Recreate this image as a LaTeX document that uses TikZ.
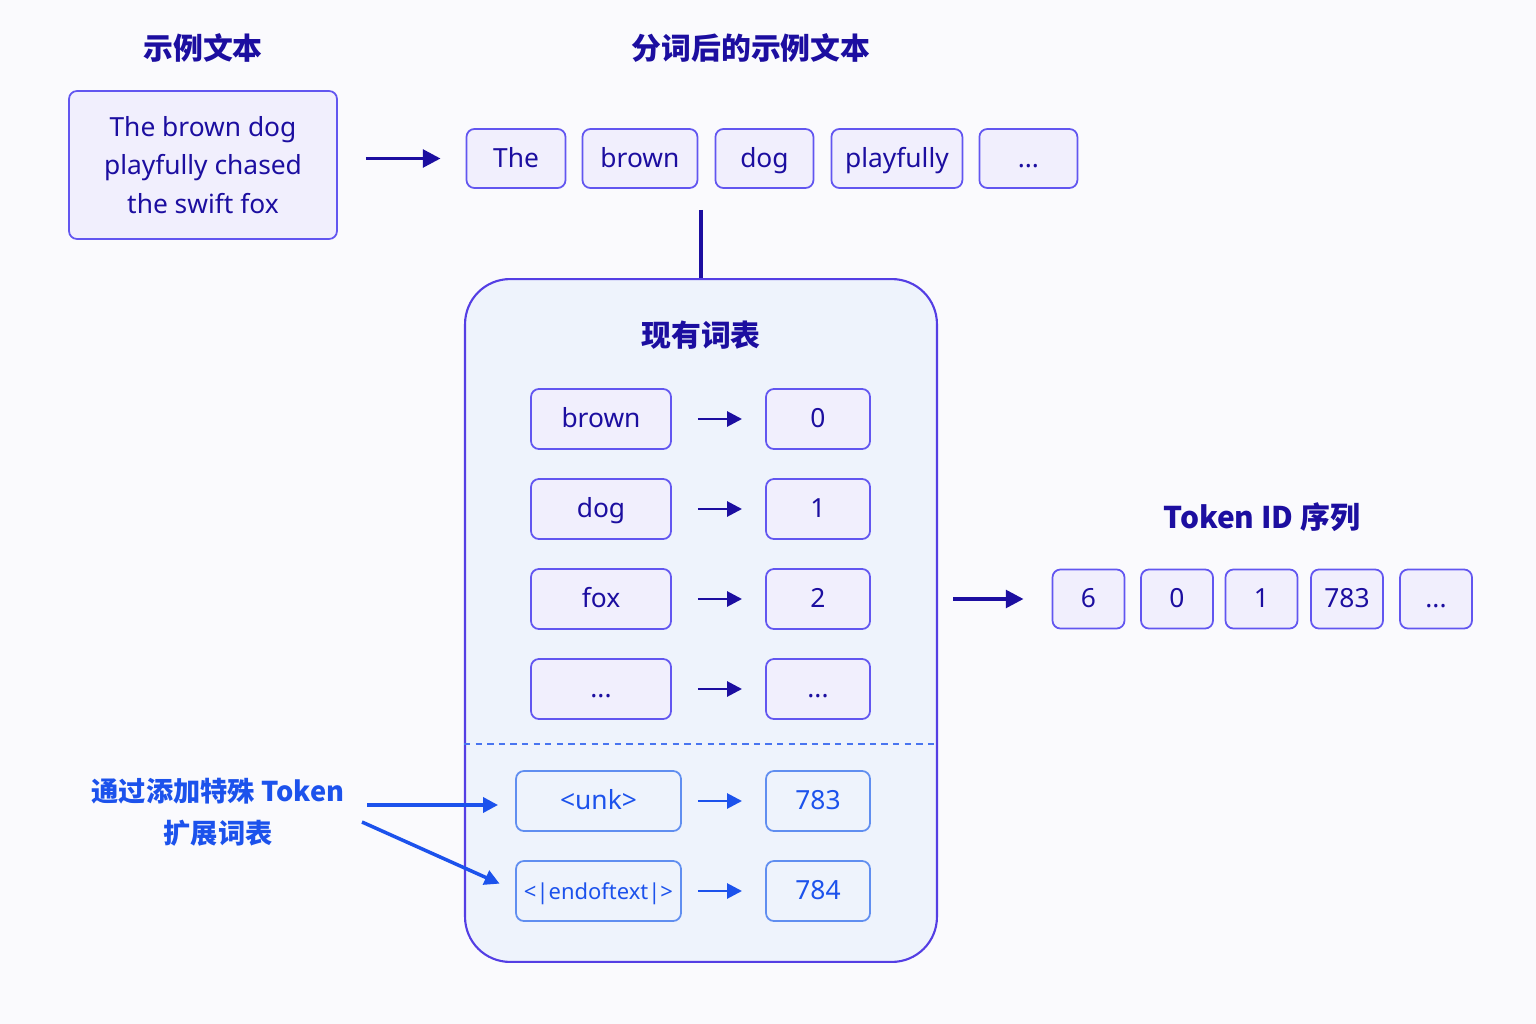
\documentclass[tikz,border=0pt]{standalone}
\usepackage{fontspec}
\setmainfont{Noto Sans}
\newfontfamily\cjk{Noto Sans CJK SC}
\usetikzlibrary{positioning,arrows.meta}

\definecolor{inkblue}{RGB}{28,14,160}
\definecolor{boxline}{RGB}{98,86,240}
\definecolor{boxfill}{RGB}{241,239,253}
\definecolor{vocline}{RGB}{84,62,228}
\definecolor{vocfill}{RGB}{238,243,252}
\definecolor{newblue}{RGB}{28,82,236}
\definecolor{newline}{RGB}{96,142,240}
\definecolor{pagebg}{RGB}{250,250,253}

\newcommand{\tdots}{...}

\tikzset{
  tokbox/.style={draw=boxline, fill=boxfill, line width=1pt, rounded corners=4.5pt,
    minimum height=1.18cm, inner sep=0pt, outer sep=0pt, text=inkblue,
    text height=13pt, text depth=3pt, font=\fontsize{15}{18}\selectfont},
  vocbox/.style={tokbox, minimum height=1.2cm},
  newbox/.style={vocbox, draw=newline, fill=vocfill, text=newblue},
  heading/.style={text=inkblue, font=\cjk\bfseries\fontsize{17}{20}\selectfont},
  bigarrow/.style={draw=inkblue, line width=2pt,
    -{Triangle[length=10pt,width=10pt]}},
  maparrow/.style={draw=inkblue, line width=1.6pt,
    -{Triangle[length=8.5pt,width=8.5pt]}},
  bluearrow/.style={maparrow, draw=newblue}
}

\begin{document}
\begin{tikzpicture}[x=0.02cm, y=-0.02cm]
\useasboundingbox[fill=pagebg] (0,0) rectangle (1536,1024);

% sample text
\node[heading] (ttlsample) at (203,48) {示例文本};
\node[tokbox, minimum width=5.36cm, minimum height=2.96cm, align=center,
  text height=, text depth=, font=\fontsize{15}{22}\selectfont] (sample) at (203,165)
  {The brown dog\\playfully chased\\the swift fox};

% tokenized text
\node[heading] (ttltok) at (751,48) {分词后的示例文本};
\node[tokbox, minimum width=1.98cm] (tThe) at (516,158.5) {The};
\node[tokbox, minimum width=2.3cm, right=0.34cm of tThe] (tbrown) {brown};
\node[tokbox, minimum width=1.96cm, right=0.36cm of tbrown] (tdog) {dog};
\node[tokbox, minimum width=2.62cm, right=0.36cm of tdog] (tplay) {playfully};
\node[tokbox, minimum width=1.96cm, right=0.34cm of tplay] (tmore) {\tdots};

\draw[bigarrow, shorten <=0.58cm, shorten >=0.52cm]
  (sample.east |- tThe) -- (tThe.west);

% vocabulary
\node[draw=vocline, fill=vocfill, line width=1.2pt, rounded corners=0.9cm,
  minimum width=9.44cm, minimum height=13.66cm] (vocab) at (701,620.5) {};
\coordinate (split) at (701,210);
\draw[inkblue, line width=2pt] (split) -- (vocab.north);
\node[heading] (ttlvocab) at (701,335) {现有词表};

\foreach \w/\n/\y [count=\i] in {brown/0/419, dog/1/509, fox/2/599, \tdots/\tdots/689}{
  \node[vocbox, minimum width=2.8cm] (w\i) at (601,\y) {\w};
  \node[vocbox, minimum width=2.08cm] (n\i) at (818,\y) {\n};
  \draw[maparrow, shorten <=0.54cm, shorten >=0.48cm] (w\i) -- (n\i);
}

\draw[newblue!80, line width=1pt, dash pattern=on 3.6pt off 3pt]
  (vocab.west |- 0,744) -- (vocab.east |- 0,744);

\node[newbox, minimum width=3.3cm] (unk) at (598.5,801) {<unk>};
\node[newbox, minimum width=2.08cm] (unkid) at (818,801) {783};
\node[newbox, minimum width=3.3cm, font=\fontsize{12.5}{15}\selectfont]
  (eot) at (598.5,891) {<|endoftext|>};
\node[newbox, minimum width=2.08cm] (eotid) at (818,891) {784};
\draw[bluearrow, shorten <=0.34cm, shorten >=0.48cm] (unk) -- (unkid);
\draw[bluearrow, shorten <=0.34cm, shorten >=0.48cm] (eot) -- (eotid);

% extension note
\node[text=newblue, font=\cjk\bfseries\fontsize{15.5}{24}\selectfont, align=center]
  (extnote) at (218,812) {通过添加特殊 Token\\扩展词表};
\coordinate (extA) at (367,805);
\coordinate (extB) at (362,822);
\draw[bluearrow, line width=2pt, shorten >=0.36cm] (extA) -- (extA -| unk.west);
\draw[bluearrow, line width=2pt, shorten >=0.36cm] (extB) -- (eot.west);

% token ids
\node[heading] (ttlids) at (1262,517) {Token ID 序列};
\foreach \v/\x [count=\i] in {6/1088.5, 0/1177, 1/1261.5, 783/1347, \tdots/1436}{
  \node[tokbox, minimum width=1.44cm] (id\i) at (\x,599) {\v};
}
\draw[bigarrow, shorten <=0.3cm, shorten >=0.58cm] (vocab.east |- id1) -- (id1.west);
\end{tikzpicture}
\end{document}
